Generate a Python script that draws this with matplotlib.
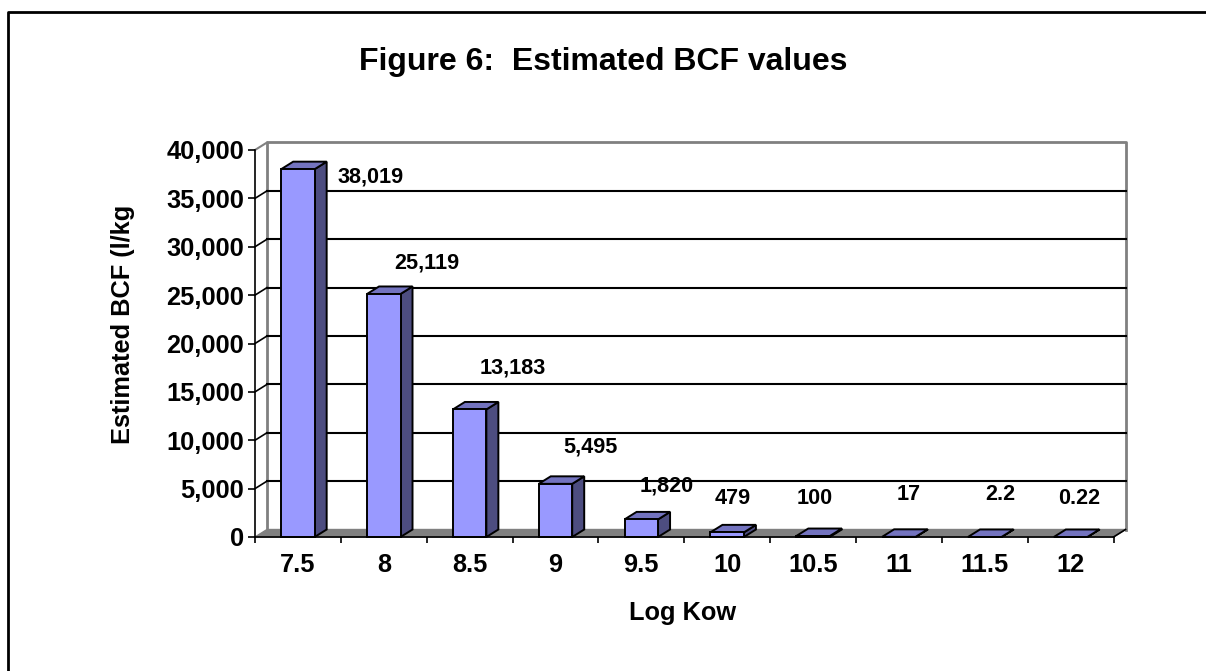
import matplotlib
matplotlib.use('Agg')
import matplotlib.pyplot as plt
from matplotlib.lines import Line2D
from matplotlib.patches import Polygon, Rectangle

# Data
log_kow = ['7.5', '8', '8.5', '9', '9.5', '10', '10.5', '11', '11.5', '12']
bcf = [38019, 25119, 13183, 5495, 1820, 479, 100, 17, 2.2, 0.22]
bcf_labels = ['38,019', '25,119', '13,183', '5,495', '1,820', '479', '100', '17', '2.2', '0.22']
y_ticks = [0, 5000, 10000, 15000, 20000, 25000, 30000, 35000, 40000]
y_tick_labels = ['0', '5,000', '10,000', '15,000', '20,000', '25,000', '30,000', '35,000', '40,000']

# label centres in pixels
label_px = [(371, 177), (427, 263), (513, 368), (590, 447), (667, 486),
            (733, 498), (815, 498), (909, 495), (1000, 495), (1079, 499)]

W, H = 1206, 671
plt.rcParams['font.family'] = ['Liberation Sans', 'DejaVu Sans']
plt.rcParams['font.weight'] = 'bold'

fig = plt.figure(figsize=(W / 100, H / 100), dpi=100)
x0, x1, y_top, y_bot = 255, 1113.5, 150, 537
ax = fig.add_axes([x0 / W, 1 - y_bot / H, (x1 - x0) / W, (y_bot - y_top) / H])
ax.set_xlim(-0.5, 9.5)
ax.set_ylim(0, 40000)
ax.patch.set_visible(False)

# depth of the fake 3D, in data units
dx = 12 / ((x1 - x0) / 10)
dy = 7.5 / ((y_bot - y_top) / 40000)
width = 0.39

left, right = -0.5, 9.5

# floor and back wall
ax.add_patch(Polygon([(left, 0), (right, 0), (right + dx, dy), (left + dx, dy)],
                     facecolor='#808080', edgecolor='#808080', lw=1, clip_on=False, zorder=1))
ax.plot([left + dx, left + dx, right + dx, right + dx],
        [dy, 40000 + dy, 40000 + dy, dy], color='#808080', lw=2, clip_on=False, zorder=1)
ax.plot([right, right + dx], [0, dy], color='black', lw=1.2, clip_on=False, zorder=1.5)

# gridlines on the wall with the little step on the side wall
for t in y_ticks[1:-1]:
    ax.plot([left + dx, right + dx], [t + dy, t + dy], color='black', lw=1.5, clip_on=False, zorder=1.5)
    ax.plot([left, left + dx], [t, t + dy], color='black', lw=1.2, clip_on=False, zorder=1.5)
ax.plot([left, left + dx], [40000, 40000 + dy], color='#808080', lw=1.5, clip_on=False, zorder=1.5)

# bars
for i, v in enumerate(bcf):
    a, b = i - width / 2, i + width / 2
    ax.add_patch(Polygon([(b, 0), (b + dx, dy), (b + dx, v + dy), (b, v)], facecolor='#4D4D80',
                         edgecolor='black', lw=1.4, clip_on=False, zorder=3))
    ax.add_patch(Polygon([(a, v), (b, v), (b + dx, v + dy), (a + dx, v + dy)], facecolor='#7373BF',
                         edgecolor='black', lw=1.4, clip_on=False, zorder=3))
    ax.add_patch(Rectangle((a, 0), width, v, facecolor='#9999FF', edgecolor='black', lw=1.4,
                           clip_on=False, zorder=3))

for s in ['top', 'right']:
    ax.spines[s].set_visible(False)
for s in ['left', 'bottom']:
    ax.spines[s].set_linewidth(1.2)
    ax.spines[s].set_zorder(4)

ax.set_yticks(y_ticks)
ax.set_yticklabels(y_tick_labels, fontsize=18.3)
ax.set_xticks([i - 0.5 for i in range(11)])
ax.set_xticklabels([])
ax.tick_params(axis='y', length=5, width=1.2, pad=3)
ax.tick_params(axis='x', length=4.5, width=1.2)

# category labels sit between the ticks
for i, lab in enumerate(log_kow):
    ax.text(i, -0.0725, lab, transform=ax.get_xaxis_transform(), ha='center', va='center', fontsize=18.3)

for (px, py), lab in zip(label_px, bcf_labels):
    fig.text(px / W, 1 - py / H, lab, ha='center', va='center', fontsize=15.6)

fig.text(603 / W, 1 - 62 / H, 'Figure 6:  Estimated BCF values', ha='center', va='center', fontsize=23)
fig.text(683 / W, 1 - 613 / H, 'Log Kow', ha='center', va='center', fontsize=18.3)
fig.text(123 / W, 1 - 324 / H, 'Estimated BCF (l/kg', ha='center', va='center', rotation=90, fontsize=18.3)

# chart border, only the top and left edges fall inside the picture
fig.add_artist(Line2D([8 / W, 8 / W, 1], [0, 1 - 12 / H, 1 - 12 / H], transform=fig.transFigure,
                      color='black', lw=2))

plt.savefig('out.png', dpi=100)
